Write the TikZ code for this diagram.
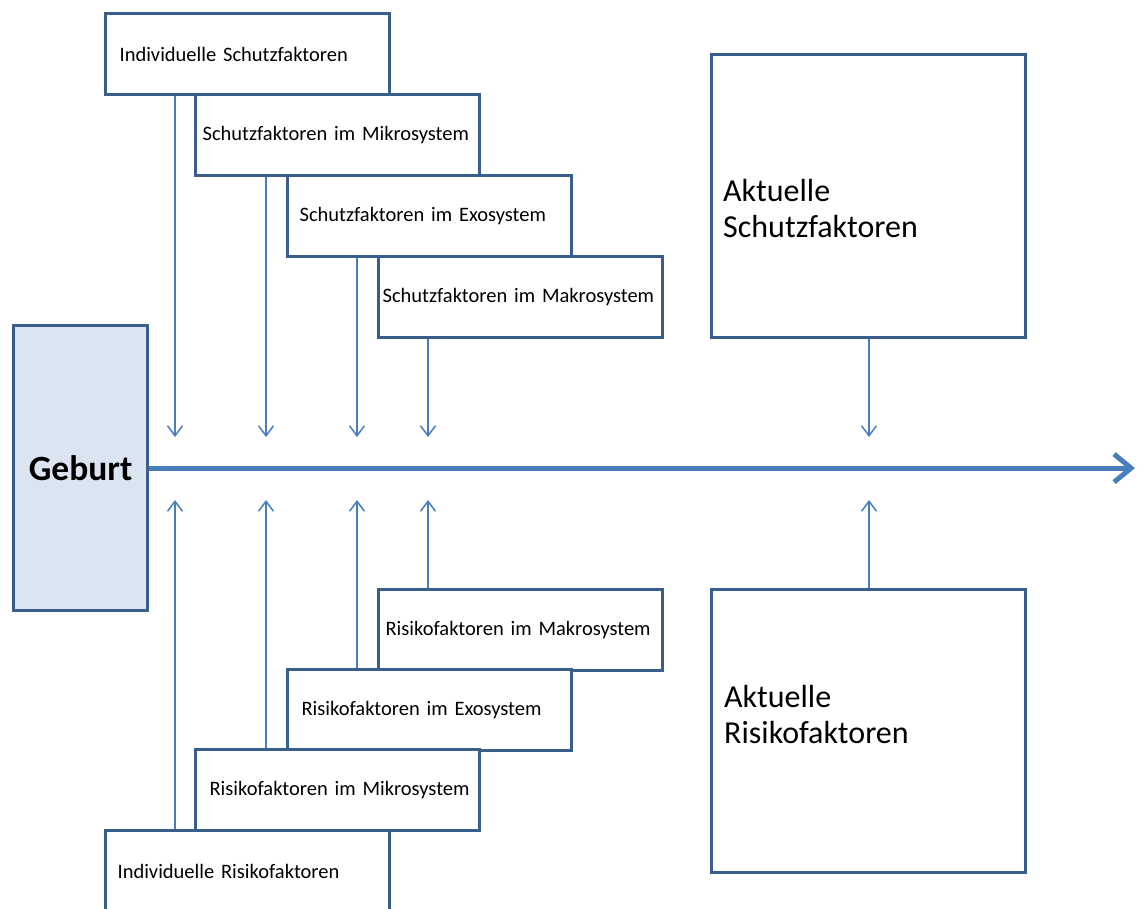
\documentclass[tikz,border=0pt]{standalone}
\usepackage{fontspec}
\usepackage{xcolor}
\usepackage{tikz}
\usetikzlibrary{arrows.meta,positioning,calc}
\setmainfont{Carlito}
\newfontfamily\stepfont[WordSpace=3]{Carlito}
\definecolor{boxline}{HTML}{3A5E8C}
\definecolor{linkblue}{HTML}{4A7EBB}
\definecolor{birthfill}{HTML}{DBE5F1}

\begin{document}
\begin{tikzpicture}[
  x=1pt, y=-1pt,
  stepbox/.style={rectangle, draw=boxline, line width=3.2pt, fill=white, minimum width=284pt, minimum height=81pt, text width=276pt, inner xsep=4pt, align=left, font=\stepfont\fontsize{20.5}{24}\selectfont, execute at begin node={\hspace*{#1}}},
  stepbox/.default=0pt,
  nowbox/.style={rectangle, draw=boxline, line width=3.2pt, minimum width=314pt, minimum height=283pt},
  nowtext/.style={inner sep=0pt, align=left, font=\fontsize{32}{36}\selectfont},
  arr/.style={-{Straight Barb[length=10pt, width=15pt]}, line width=1.5pt, linkblue},
  timearr/.style={-{Straight Barb[length=17pt, width=28pt]}, line width=5pt, linkblue}
]
\useasboundingbox (0,0) rectangle (1138,908);

\node[rectangle, draw=boxline, line width=3.2pt, fill=birthfill, minimum width=134pt, minimum height=285pt,
  font=\bfseries\fontsize{35.5}{40}\selectfont, anchor=north west] (geburt) at (12,324) {Geburt};

\coordinate (tend) at (1135,467);
\draw[timearr] (geburt.east) -- (geburt.east -| tend);

% Schutzfaktoren
\node[stepbox=10pt, anchor=north west] (sind) at (104,12) {Individuelle Schutzfaktoren};
\node[stepbox=3pt, anchor=north west] (smikro) at (194,93) {Schutzfaktoren im Mikrosystem};
\node[stepbox=8pt, anchor=north west] (sexo) at (286,174) {Schutzfaktoren im Exosystem};
\node[stepbox, anchor=north west] (smakro) at (377,255) {Schutzfaktoren im Makrosystem};

\node[nowbox, anchor=north west] (aschutz) at (710,53) {};
\node[nowtext, anchor=west] (aschutztxt) at (723,209) {Aktuelle\\Schutzfaktoren};

\coordinate (d1) at (175,437);
\coordinate (d2) at (266,437);
\coordinate (d3) at (357,437);
\coordinate (d4) at (428,437);
\coordinate (d5) at (869,437);

\draw[arr] (sind.south -| d1) -- (d1);
\draw[arr] (smikro.south -| d2) -- (d2);
\draw[arr] (sexo.south -| d3) -- (d3);
\draw[arr] (smakro.south -| d4) -- (d4);
\draw[arr] (aschutz.south -| d5) -- (d5);

% Risikofaktoren
\node[stepbox=3pt, anchor=north west] (rmakro) at (377,588) {Risikofaktoren im Makrosystem};
\node[stepbox=10pt, anchor=north west] (rexo) at (286,668) {Risikofaktoren im Exosystem};
\node[stepbox=10pt, anchor=north west] (rmikro) at (194,748) {Risikofaktoren im Mikrosystem};
\node[stepbox=8pt, anchor=north west] (rind) at (104,829) {Individuelle Risikofaktoren};

\node[nowbox, anchor=north west] (arisiko) at (710,588) {};
\node[nowtext, anchor=west] (arisikotxt) at (724,714) {Aktuelle\\Risikofaktoren};

\coordinate (u1) at (175,500);
\coordinate (u2) at (266,500);
\coordinate (u3) at (357,500);
\coordinate (u4) at (428,500);
\coordinate (u5) at (869,500);

\draw[arr] (rind.north -| u1) -- (u1);
\draw[arr] (rmikro.north -| u2) -- (u2);
\draw[arr] (rexo.north -| u3) -- (u3);
\draw[arr] (rmakro.north -| u4) -- (u4);
\draw[arr] (arisiko.north -| u5) -- (u5);

\end{tikzpicture}
\end{document}
